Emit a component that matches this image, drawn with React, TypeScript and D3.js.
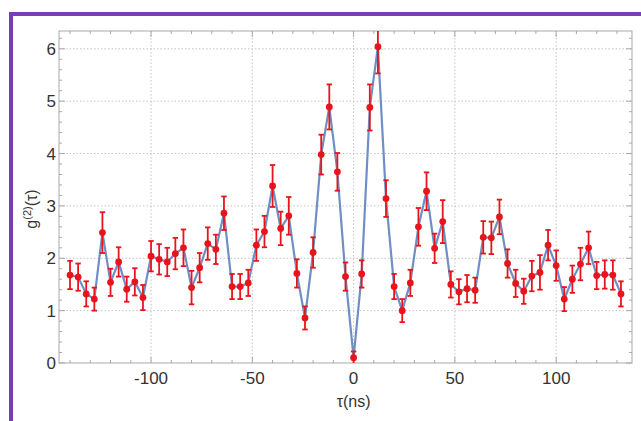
import React from "react";
import * as d3 from "d3";

const taus: number[] = [
  -140, -136, -132, -128, -124, -120, -116, -112, -108, -104, -100, -96, -92, -88, -84, -80,
  -76, -72, -68, -64, -60, -56, -52, -48, -44, -40, -36, -32, -28, -24, -20, -16, -12, -8, -4,
  0, 4, 8, 12, 16, 20, 24, 28, 32, 36, 40, 44, 48, 52, 56, 60, 64, 68, 72, 76, 80, 84, 88, 92,
  96, 100, 104, 108, 112, 116, 120, 124, 128, 132,
];
const g2: number[] = [
  1.68, 1.64, 1.32, 1.22, 2.49, 1.54, 1.93, 1.41, 1.55, 1.25, 2.04, 1.98, 1.93, 2.09, 2.2, 1.44,
  1.82, 2.28, 2.17, 2.86, 1.46, 1.46, 1.53, 2.25, 2.51, 3.38, 2.57, 2.81, 1.71, 0.86, 2.11, 3.98,
  4.89, 3.65, 1.65, 0.1, 1.7, 4.88, 6.04, 3.14, 1.46, 1.0, 1.53, 2.6, 3.28, 2.19, 2.7, 1.5, 1.36,
  1.42, 1.39, 2.4, 2.39, 2.79, 1.9, 1.52, 1.37, 1.66, 1.73, 2.25, 1.86, 1.22, 1.6, 1.89, 2.2,
  1.67, 1.69, 1.68, 1.32,
];
const errs: number[] = [
  0.27, 0.26, 0.24, 0.22, 0.39, 0.26, 0.28, 0.24, 0.26, 0.24, 0.29, 0.29, 0.27, 0.3, 0.35, 0.32,
  0.28, 0.31, 0.28, 0.32, 0.24, 0.24, 0.25, 0.3, 0.3, 0.4, 0.32, 0.36, 0.27, 0.22, 0.29, 0.38,
  0.43, 0.36, 0.27, 0.12, 0.26, 0.44, 0.51, 0.35, 0.24, 0.22, 0.25, 0.36, 0.36, 0.28, 0.41, 0.25,
  0.24, 0.26, 0.24, 0.31, 0.31, 0.33, 0.27, 0.26, 0.24, 0.29, 0.33, 0.29, 0.29, 0.23, 0.26, 0.31,
  0.31, 0.26, 0.27, 0.28, 0.24,
];
const xTicks: number[] = [-100, -50, 0, 50, 100];
const yTicks: number[] = [0, 1, 2, 3, 4, 5, 6];

const W = 641;
const H = 421;
const L = 59, R = 632, T = 31, B = 363;

export default function App() {
  const x = d3.scaleLinear().domain([-145.44, 137.44]).range([L, R]);
  const y = d3.scaleLinear().domain([0, 6.34]).range([B, T]);
  const pts = taus.map((t, i) => ({ t, v: g2[i], e: errs[i] }));
  const line = d3.line<{ t: number; v: number }>().x((d) => x(d.t)).y((d) => y(d.v));
  const xMinor = d3.range(-140, 140, 10).filter((v) => v % 50 !== 0);
  const yMinor = d3.range(0, 6.34, 0.2).filter((v) => Math.abs(v - Math.round(v)) > 0.01);
  const frame = "#a9a9a9";
  const grid = "#c4c4c4";
  const red = "#e8141c";
  const font = "'Liberation Sans', Arial, sans-serif";
  return (
    <svg width={W} height={H} style={{ position: "absolute", left: 0, top: 0 }}>
      <rect x={0} y={0} width={W} height={H} fill="#fff" />
      <rect x={11} y={14} width={W + 20} height={H + 20} fill="none" stroke="#7a3db5" strokeWidth={4} />
      <defs>
        <clipPath id="plotclip">
          <rect x={L} y={T} width={R - L} height={B - T} />
        </clipPath>
      </defs>
      {xTicks.map((t) => (
        <line key={"gx" + t} x1={x(t)} x2={x(t)} y1={T} y2={B} stroke={grid} strokeWidth={1} strokeDasharray="1.5,2" />
      ))}
      {yTicks.filter((t) => t > 0).map((t) => (
        <line key={"gy" + t} x1={L} x2={R} y1={y(t)} y2={y(t)} stroke={grid} strokeWidth={1} strokeDasharray="1.5,2" />
      ))}
      <rect x={L} y={T} width={R - L} height={B - T} fill="none" stroke={frame} strokeWidth={1} />
      {xTicks.map((t) => (
        <g key={"xt" + t}>
          <line x1={x(t)} x2={x(t)} y1={B} y2={B - 6} stroke={frame} />
          <line x1={x(t)} x2={x(t)} y1={T} y2={T + 6} stroke={frame} />
        </g>
      ))}
      {xMinor.map((t) => (
        <g key={"xm" + t}>
          <line x1={x(t)} x2={x(t)} y1={B} y2={B - 3} stroke={frame} />
          <line x1={x(t)} x2={x(t)} y1={T} y2={T + 3} stroke={frame} />
        </g>
      ))}
      {yTicks.map((t) => (
        <g key={"yt" + t}>
          <line x1={L} x2={L + 6} y1={y(t)} y2={y(t)} stroke={frame} />
          <line x1={R} x2={R - 6} y1={y(t)} y2={y(t)} stroke={frame} />
        </g>
      ))}
      {yMinor.map((t, i) => (
        <g key={"ym" + i}>
          <line x1={L} x2={L + 3} y1={y(t)} y2={y(t)} stroke={frame} />
          <line x1={R} x2={R - 3} y1={y(t)} y2={y(t)} stroke={frame} />
        </g>
      ))}
      <g clipPath="url(#plotclip)">
        <path d={line(pts) || ""} fill="none" stroke="#6f8fc4" strokeWidth={2.2} strokeLinejoin="round" />
        {pts.map((p, i) => (
          <g key={"p" + i} stroke={red} strokeWidth={1.8}>
            <line x1={x(p.t)} x2={x(p.t)} y1={y(p.v - p.e)} y2={y(p.v + p.e)} />
            <line x1={x(p.t) - 2.7} x2={x(p.t) + 2.7} y1={y(p.v - p.e)} y2={y(p.v - p.e)} />
            <line x1={x(p.t) - 2.7} x2={x(p.t) + 2.7} y1={y(p.v + p.e)} y2={y(p.v + p.e)} />
            <circle cx={x(p.t)} cy={y(p.v)} r={3.4} fill={red} stroke="none" />
          </g>
        ))}
      </g>
      {xTicks.map((t) => (
        <text key={"xl" + t} x={x(t)} y={B + 21} textAnchor="middle" fontFamily={font} fontSize={17} fill="#333">
          {t}
        </text>
      ))}
      {yTicks.map((t) => (
        <text key={"yl" + t} x={L - 3} y={y(t) + 6} textAnchor="end" fontFamily={font} fontSize={17} fill="#333">
          {t}
        </text>
      ))}
      <text x={x(0)} y={B + 44} textAnchor="middle" fontFamily={font} fontSize={16} fill="#333">
        τ(ns)
      </text>
      <text transform={`translate(37, ${(T + B) / 2 + 12}) rotate(-90)`} textAnchor="middle" fontFamily={font} fontSize={16} fill="#333">
        g<tspan fontSize={11} dy={-6}>(2)</tspan>
        <tspan dy={6}>(τ)</tspan>
      </text>
    </svg>
  );
}
